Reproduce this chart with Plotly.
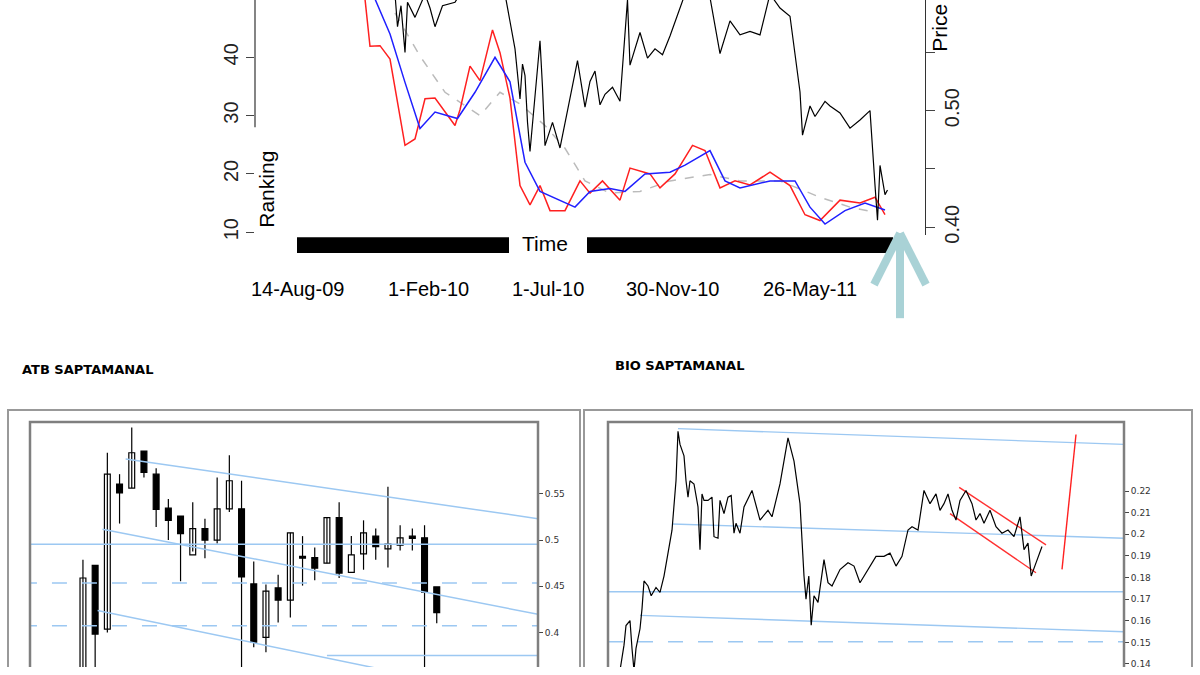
import plotly.graph_objects as go

W, H = 1200, 675

# ---------------- top chart: ranking vs price ----------------
red_day = [290, 300, 320, 340, 370, 390, 410, 430, 470, 480, 500, 520, 545, 560, 580, 600, 620, 640, 660,
           690, 720, 740, 765, 800, 820, 860, 880, 910, 945, 970, 1000, 1030, 1060, 1100, 1140, 1170, 1200,
           1240, 1280, 1310, 1330]
red_rank = [50, 41.9, 42, 39.7, 24.9, 26, 32.9, 33, 28.3, 31, 38.5, 36, 44.7, 40.8, 33, 18, 14.7, 18, 13.7,
            13.7, 18.8, 16.7, 18.8, 15.5, 21, 20, 17.6, 20, 24.9, 24, 17.6, 18.8, 18.1, 20.3, 18, 13, 12,
            15.5, 15, 16, 13]
blue_day = [310, 340, 370, 400, 430, 475, 510, 550, 580, 610, 640, 680, 710, 740, 780, 810, 850, 900, 930,
            980, 1010, 1040, 1100, 1150, 1180, 1210, 1250, 1290, 1330]
blue_rank = [50, 44, 35.7, 27.8, 30.6, 29.5, 34, 40, 35.8, 22, 17, 15.5, 14.3, 17, 17.5, 17, 20, 20.3, 21.5,
             24, 18.8, 17.6, 18.8, 18.8, 14.3, 11.4, 13.7, 15, 13.8]
gray_day = [350, 400, 450, 520, 560, 600, 650, 690, 730, 780, 840, 900, 980, 1040, 1120, 1200, 1260, 1310]
gray_rank = [47.6, 40.2, 34, 30, 34, 32, 28.3, 24.4, 18.8, 16.7, 17, 18.8, 19.9, 18.8, 18.8, 16, 14.3, 13.4]
price_day = [350, 355, 362, 370, 375, 390, 410, 420, 430, 445, 470, 480, 570, 580, 590, 600, 605, 610, 615,
             620, 630, 640, 645, 650, 665, 680, 695, 715, 730, 740, 750, 760, 770, 785, 800, 815, 820, 840,
             855, 870, 885, 900, 930, 980, 1000, 1020, 1040, 1060, 1080, 1100, 1120, 1140, 1160, 1165, 1180,
             1190, 1210, 1220, 1240, 1260, 1280, 1300, 1310, 1315, 1320, 1330, 1335]
price_val = [0.60, 0.572, 0.59, 0.55, 0.593, 0.58, 0.60, 0.588, 0.572, 0.59, 0.593, 0.60, 0.60, 0.575,
             0.553, 0.51, 0.54, 0.53, 0.49, 0.465, 0.51, 0.56, 0.52, 0.47, 0.49, 0.468, 0.50, 0.543, 0.503,
             0.525, 0.534, 0.505, 0.514, 0.52, 0.508, 0.595, 0.539, 0.567, 0.545, 0.553, 0.548, 0.564, 0.60,
             0.597, 0.549, 0.577, 0.565, 0.568, 0.565, 0.60, 0.588, 0.581, 0.516, 0.479, 0.504, 0.495, 0.508,
             0.504, 0.498, 0.485, 0.492, 0.50, 0.436, 0.406, 0.453, 0.428, 0.432]
rank_ticks = [10, 20, 30, 40, 50]
price_ticks = [0.40, 0.45, 0.50, 0.55, 0.60]
price_ticktext = ["0.40", "", "0.50", "", "0.60"]
date_labels = ["14-Aug-09", "1-Feb-10", "1-Jul-10", "30-Nov-10", "26-May-11"]
date_px = [297, 428, 548, 672, 810]

# ---------------- ATB weekly candles ----------------
atb_open = [0.34, 0.4725, 0.4036, 0.5607, 0.5564, 0.5964, 0.5714, 0.5346, 0.5261, 0.4839, 0.5125, 0.5,
            0.5339, 0.5339, 0.4525, 0.3946, 0.4482, 0.435, 0.4811, 0.4811, 0.475, 0.5243, 0.465, 0.485,
            0.5043, 0.4904, 0.4946, 0.5043, 0.5025, 0.4493]
atb_close = [0.4589, 0.3982, 0.5714, 0.5511, 0.5946, 0.5732, 0.5332, 0.5214, 0.5071, 0.5125, 0.5, 0.5339,
             0.5643, 0.46, 0.3893, 0.4446, 0.435, 0.5079, 0.4804, 0.4696, 0.5243, 0.4643, 0.4839, 0.5079,
             0.4929, 0.4957, 0.5025, 0.5018, 0.4436, 0.4214]
atb_high = [0.4786, 0.4725, 0.5946, 0.5714, 0.622, 0.5964, 0.5779, 0.5446, 0.5261, 0.5411, 0.5232, 0.5679,
            0.5918, 0.5643, 0.4768, 0.4518, 0.4625, 0.5079, 0.5043, 0.4921, 0.5243, 0.5411, 0.5043, 0.5214,
            0.5125, 0.5579, 0.5161, 0.5125, 0.5161, 0.4493]
atb_low = [0.34, 0.34, 0.4, 0.5179, 0.5564, 0.5679, 0.5143, 0.5, 0.4554, 0.4875, 0.4804, 0.4964, 0.5304,
           0.34, 0.3839, 0.3786, 0.4107, 0.4161, 0.4507, 0.4564, 0.475, 0.4589, 0.4839, 0.4679, 0.4786,
           0.4704, 0.4886, 0.4886, 0.34, 0.41]
atb_ticks = [0.4, 0.45, 0.5, 0.55]

# ---------------- BIO weekly line ----------------
bio_day = [100, 110, 115, 125, 130, 135, 140, 150, 155, 160, 170, 178, 190, 200, 210, 220, 230, 240, 245,
           250, 260, 265, 270, 275, 285, 295, 300, 305, 310, 320, 330, 335, 345, 350, 360, 370, 378, 385,
           390, 400, 410, 430, 450, 470, 480, 500, 520, 535, 550, 560, 565, 572, 578, 585, 595, 610, 620,
           630, 650, 670, 685, 700, 720, 740, 760, 775, 790, 805, 820, 830, 845, 860, 875, 890, 900, 910,
           920, 930, 940, 950, 965, 980, 990, 1000, 1010, 1025, 1040, 1055, 1070, 1085, 1100, 1110, 1120,
           1128, 1140, 1155]
bio_price = [0.137, 0.1487, 0.1578, 0.1601, 0.1472, 0.137, 0.1472, 0.1563, 0.1655, 0.1784, 0.1761, 0.1716,
             0.1754, 0.1731, 0.1807, 0.1913, 0.2019, 0.2248, 0.2477, 0.2416, 0.2363, 0.2248, 0.2172,
             0.2248, 0.2233, 0.2127, 0.1929, 0.2187, 0.2157, 0.2157, 0.2172, 0.1989, 0.1982, 0.2157,
             0.2096, 0.2172, 0.218, 0.2005, 0.2051, 0.2005, 0.2127, 0.2203, 0.2066, 0.2111, 0.2081,
             0.2233, 0.2446, 0.2339, 0.2142, 0.1807, 0.17, 0.1807, 0.1579, 0.1716, 0.1685, 0.1883, 0.1776,
             0.1761, 0.1837, 0.1868, 0.1853, 0.1776, 0.1837, 0.1898, 0.1898, 0.1913, 0.1853, 0.1898,
             0.2020, 0.2035, 0.2020, 0.2203, 0.2142, 0.2187, 0.2111, 0.2142, 0.2187, 0.2111, 0.2066,
             0.2157, 0.2203, 0.2142, 0.2066, 0.2096, 0.2051, 0.2111, 0.2035, 0.2005, 0.2020, 0.1989,
             0.2081, 0.1929, 0.1959, 0.1807, 0.1868, 0.1944]
bio_ticks = [0.14, 0.15, 0.16, 0.17, 0.18, 0.19, 0.2, 0.21, 0.22]
bio_ticktext = ["0.14", "0.15", "0.16", "0.17", "0.18", "0.19", "0.2", "0.21", "0.22"]

LBLUE = "#9cc8f2"
FRAME = "#7f7f7f"
ARROW = "#a9d2d6"


def px(x):
    return x / W


def py(y):
    return 1 - y / H


fig = go.Figure()

fig.add_trace(go.Scatter(x=gray_day, y=gray_rank, mode="lines", line=dict(color="#bbbbbb", width=1.5, dash="dash")))
fig.add_trace(go.Scatter(x=red_day, y=red_rank, mode="lines", line=dict(color="#ff2020", width=1.5)))
fig.add_trace(go.Scatter(x=blue_day, y=blue_rank, mode="lines", line=dict(color="#2020ff", width=1.5)))
fig.add_trace(go.Scatter(x=price_day, y=price_val, mode="lines", line=dict(color="black", width=1.2),
                         xaxis="x", yaxis="y2"))

# candles: bodies as bars, wicks as one broken line
n = len(atb_open)
idx = list(range(n))
wx, wy = [], []
for i in idx:
    wx += [i, i, None]
    wy += [atb_low[i], atb_high[i], None]
fig.add_trace(go.Scatter(x=wx, y=wy, mode="lines", line=dict(color="black", width=1.2),
                         xaxis="x3", yaxis="y3"))
fig.add_trace(go.Bar(x=idx, base=[min(o, c) for o, c in zip(atb_open, atb_close)],
                     y=[max(abs(c - o), 0.002) for o, c in zip(atb_open, atb_close)], width=0.48,
                     marker=dict(color=["white" if c > o else "black" for o, c in zip(atb_open, atb_close)],
                                 line=dict(color="black", width=1.2)),
                     xaxis="x3", yaxis="y3"))

# ATB blue guide lines
for xs, ys, dash in [([-5, 40], [0.4954, 0.4954], "solid"), ([-5, 40], [0.4536, 0.4536], "longdash"),
                     ([-5, 40], [0.4071, 0.4071], "longdash"), ([20, 40], [0.375, 0.375], "solid"),
                     ([3.5, 37.3], [0.5879, 0.5232], "solid"), ([1.6, 37.3], [0.5118, 0.4196], "solid"),
                     ([1.2, 37.3], [0.4236, 0.325], "solid")]:
    fig.add_trace(go.Scatter(x=xs, y=ys, mode="lines", line=dict(color=LBLUE, width=1.5, dash=dash),
                             xaxis="x3", yaxis="y3"))

# BIO guide lines
for xs, ys, dash, col in [([245, 1360], [0.2489, 0.2416], "solid", LBLUE), ([230, 1360], [0.2048, 0.1982], "solid", LBLUE),
                          ([70, 1360], [0.1734, 0.1734], "solid", LBLUE), ([150, 1360], [0.1625, 0.1549], "solid", LBLUE),
                          ([70, 1360], [0.1503, 0.1503], "longdash", LBLUE),
                          ([948, 1165], [0.2217, 0.1951], "solid", "#ff3030"), ([925, 1140], [0.2096, 0.1822], "solid", "#ff3030"),
                          ([1205, 1240], [0.1838, 0.2462], "solid", "#ff2020")]:
    fig.add_trace(go.Scatter(x=xs, y=ys, mode="lines", line=dict(color=col, width=1.4, dash=dash),
                             xaxis="x4", yaxis="y4"))
fig.add_trace(go.Scatter(x=bio_day, y=bio_price, mode="lines", line=dict(color="black", width=1.2),
                         xaxis="x4", yaxis="y4"))

tickfont = dict(family="Liberation Sans, Arial", size=20, color="#222")
small = dict(family="DejaVu Sans", size=9, color="#333")

fig.update_layout(
    width=W, height=H, margin=dict(l=0, r=0, t=0, b=0), showlegend=False,
    plot_bgcolor="white", paper_bgcolor="white",
    xaxis=dict(domain=[px(255), px(925)], range=[70, 1410], visible=False),
    yaxis=dict(domain=[py(238), 1], range=[9.49, 49.83], tickvals=rank_ticks, ticks="outside", ticklen=8,
               tickangle=-90, tickfont=tickfont, showgrid=False, zeroline=False, showline=False),
    yaxis2=dict(overlaying="y", side="right", range=[0.3932, 0.5949], tickvals=price_ticks, ticktext=price_ticktext,
                ticks="outside", ticklen=9, tickangle=-90, tickfont=tickfont, showgrid=False, zeroline=False,
                showline=True, linecolor="#333", linewidth=1.2),
    xaxis3=dict(domain=[px(30), px(538)], range=[-4.34, 37.3], visible=False),
    yaxis3=dict(domain=[0, py(427)], range=[0.3625, 0.628], anchor="x3", side="right", tickvals=atb_ticks,
                ticktext=["0.4", "0.45", "0.5", "0.55"], ticks="outside", ticklen=4, tickfont=small,
                showgrid=False, zeroline=False, showline=False),
    xaxis4=dict(domain=[px(608), px(1124)], range=[70, 1360], visible=False),
    yaxis4=dict(domain=[0, py(427)], range=[0.1386, 0.252], anchor="x4", side="right", tickvals=bio_ticks,
                ticktext=bio_ticktext, ticks="outside", ticklen=4, tickfont=small,
                showgrid=False, zeroline=False, showline=False),
)

shapes = []
# left ranking axis line (partial)
shapes.append(dict(type="line", xref="paper", yref="y", x0=px(255), x1=px(255), y0=28, y1=49.83,
                   line=dict(color="#333", width=1.2)))
# black "Time" bars
for x0, x1 in [(297, 509), (587, 893)]:
    shapes.append(dict(type="rect", xref="paper", yref="paper", x0=px(x0), x1=px(x1), y0=py(256), y1=py(240),
                       fillcolor="black", line=dict(width=0)))
# arrow
for x0, y0, x1, y1 in [(900, 322, 900, 236), (900, 236, 874, 288), (900, 236, 926, 288)]:
    shapes.append(dict(type="line", xref="paper", yref="paper", x0=px(x0), y0=py(y0), x1=px(x1), y1=py(y1),
                       line=dict(color=ARROW, width=8)))
# frames (top, left, right only; bottom is cropped)
for l, t, r, w, c in [(8, 415, 580, 2, "#999"), (30, 427, 538, 2.5, FRAME),
                      (584, 415, 1192, 2, "#999"), (608, 427, 1124, 2.5, FRAME)]:
    shapes.append(dict(type="path", xref="paper", yref="paper",
                       path=f"M {px(l)} 0 L {px(l)} {py(t)} L {px(r)} {py(t)} L {px(r)} 0",
                       line=dict(color=c, width=w)))
fig.update_layout(shapes=shapes)

big = dict(family="Liberation Sans, Arial", size=21, color="black")
ann = []
ann.append(dict(text="Time", x=px(545), y=py(246), font=big))
ann.append(dict(text="Ranking", x=px(267), y=py(192), textangle=-90, font=big))
ann.append(dict(text="Price", x=px(940), y=py(28), textangle=-90, font=big))
for lab, x in zip(date_labels, date_px):
    ann.append(dict(text=lab, x=px(x), y=py(292), font=dict(family="Liberation Sans, Arial", size=20, color="black")))
ann.append(dict(text="<b>ATB SAPTAMANAL</b>", x=px(20), y=py(374), xanchor="left",
                font=dict(family="DejaVu Sans", size=13, color="black")))
ann.append(dict(text="<b>BIO SAPTAMANAL</b>", x=px(613), y=py(370), xanchor="left",
                font=dict(family="DejaVu Sans", size=13, color="black")))
for a in ann:
    a.setdefault("xanchor", "center")
    a.update(xref="paper", yref="paper", yanchor="middle", showarrow=False)
fig.update_layout(annotations=ann)

fig.write_html("out.html", config={"displayModeBar": False},
               post_script="document.body.style.margin='0';document.body.style.overflow='hidden';")
